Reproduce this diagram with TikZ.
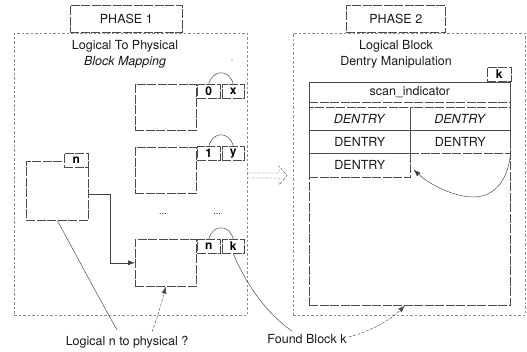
\documentclass[tikz,border=0pt]{standalone}
\usepackage{fontspec}
\setmainfont{TeX Gyre Heros}
\usetikzlibrary{calc,arrows.meta}
\begin{document}
\begin{tikzpicture}[x=1pt,y=-1pt,
  lc/.style={draw=black!70, line width=0.6pt, dash pattern=on 9pt off 1.5pt},
  region/.style={draw=black!45, line width=0.6pt, dash pattern=on 2.5pt off 2pt, rectangle, inner sep=0pt, anchor=north west},
  boxn/.style={lc, rectangle, inner sep=0pt, anchor=north west},
  cell/.style={lc, rectangle, inner sep=0pt, anchor=north west, font=\fontsize{12}{12}\selectfont\bfseries},
  txt/.style={font=\fontsize{12.5}{16}\selectfont, text=black!90, inner sep=0pt, align=center},
  conn/.style={draw=black!75, line width=0.45pt},
  fine/.style={draw=black!70, line width=0.45pt, dash pattern=on 3pt off 1.5pt},
  tip/.style={-{Latex[length=7pt,width=5pt]}},
]
\useasboundingbox (0,0) rectangle (527,352);

% ---------- Phase 1 ----------
\node[region, minimum width=233pt, minimum height=282pt] (p1) at (14,33) {};
\node[boxn, minimum width=112pt, minimum height=27pt, txt] (ph1) at (70,5) {PHASE 1};
\node[txt] (t1) at (125,54.5) {Logical To Physical\\\textit{Block Mapping}};
\fill[black!70] (232,60) circle (0.7);

\node[boxn, minimum width=61pt, minimum height=46pt] (b0) at (135,84) {};
\node[cell, minimum width=23pt, minimum height=14pt] (c0) at (197,84) {0};
\node[cell, minimum width=22pt, minimum height=14pt] (cx) at (222,84) {x};
\draw[conn] (c0.north) .. controls ($(c0.north)+(4,-15)$) and ($(cx.north)+(-4,-15)$) .. (cx.north);

\node[boxn, minimum width=61pt, minimum height=46pt] (b1) at (135,147) {};
\node[cell, minimum width=23pt, minimum height=14pt] (c1) at (197,146) {1};
\node[cell, minimum width=22pt, minimum height=14pt] (cy) at (222,146) {y};
\draw[conn] (c1.north) .. controls ($(c1.north)+(4,-15)$) and ($(cy.north)+(-4,-15)$) .. (cy.north);

\node[font=\fontsize{9}{9}\selectfont, inner sep=0pt] (d1) at (163,214) {...};
\node[font=\fontsize{9}{9}\selectfont, inner sep=0pt] (d2) at (217,214) {...};

\node[boxn, minimum width=61pt, minimum height=47pt] (bk) at (135,239) {};
\node[cell, minimum width=23pt, minimum height=14pt] (cn) at (197,239) {n};
\node[cell, minimum width=22pt, minimum height=14pt] (ck) at (222,239) {k};
\draw[conn] (cn.north) .. controls ($(cn.north)+(4,-15)$) and ($(ck.north)+(-4,-15)$) .. (ck.north);

\node[boxn, minimum width=62pt, minimum height=59pt] (lb) at (26,161) {};
\node[cell, minimum width=24pt, minimum height=14pt, fill=white] (ln) at (64,153) {n};

\draw[conn, tip] ($(lb.north east)+(0,33)$) -- ++(22,0) |- (bk.west);

% ---------- hollow arrow ----------
\coordinate (ha) at (248,173);
\draw[fine] (ha) -- ++(31,0) -- ++(0,-7) -- ++(8,9.5) -- ++(-8,9.5) -- ++(0,-7) -- ++(-31,0);

% ---------- Phase 2 ----------
\node[region, minimum width=232pt, minimum height=282pt] (p2) at (293,33) {};
\node[boxn, minimum width=99pt, minimum height=27pt, txt] (ph2) at (346,5) {PHASE 2};
\node[txt] (t2) at (396,54.5) {Logical Block\\Dentry Manipulation};
\node[cell, minimum width=24pt, minimum height=14pt] (kc) at (487,67) {k};

\node[boxn, minimum width=201pt, minimum height=223pt] (p2in) at (309,82) {};
\node[boxn, minimum width=201pt, minimum height=20pt, txt] (sc) at (309,82) {scan\_indicator};
\node[boxn, minimum width=101pt, minimum height=23pt, txt] (r1a) at (309,107) {\textit{DENTRY}};
\node[boxn, minimum width=100pt, minimum height=23pt, txt] (r1b) at (410,107) {\textit{DENTRY}};
\node[boxn, minimum width=101pt, minimum height=23pt, txt] (r2a) at (309,130) {DENTRY};
\node[boxn, minimum width=100pt, minimum height=23pt, txt] (r2b) at (410,130) {DENTRY};
\node[boxn, minimum width=101pt, minimum height=24pt, txt] (r3) at (309,153) {DENTRY};

\draw[conn, tip] ($(p2in.north east)+(0,71)$) .. controls (508,180) and (495,197) .. (473,197)
   .. controls (455,197) and (430,185) .. ($(r3.south east)+(3,-8)$);

% ---------- labels ----------
\node[txt] (lbl1) at (127,342) {Logical n to physical ?};
\node[txt] (lbl2) at (307,339) {Found Block k};

\draw[conn] (lb.south) .. controls (80,262) and (100,300) .. ($(lbl1.north)+(-10,-6)$);
\draw[fine, tip] ($(lbl1.north)+(25,-4)$) .. controls (159,312) .. (bk.south);
\draw[conn] (ck.south) .. controls (245,282) and (265,312) .. ($(lbl2.north)+(-15,-3)$);
\draw[fine, tip] ($(lbl2.east)+(2,-2)$) .. controls (375,330) and (392,318) .. ($(p2in.south west)+(96,0)$);
\end{tikzpicture}
\end{document}
